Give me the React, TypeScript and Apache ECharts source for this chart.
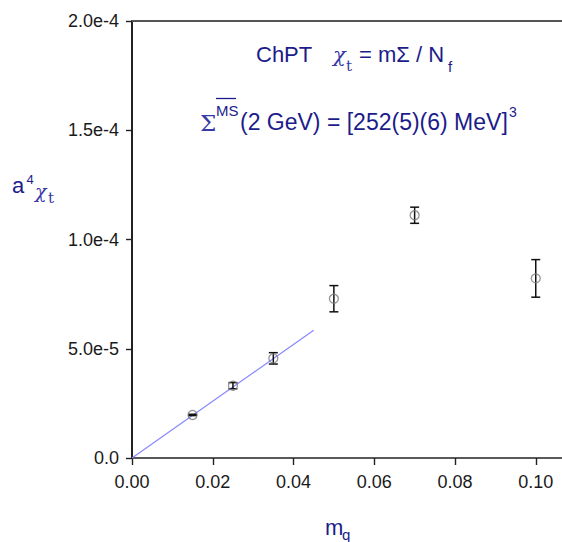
import React, { useEffect, useRef } from "react";
import * as echarts from "echarts";

const massValues = [0.015, 0.025, 0.035, 0.05, 0.07, 0.1];
const chiValues = [1.97e-5, 3.31e-5, 4.56e-5, 7.29e-5, 1.111e-4, 8.22e-5];
const chiErrors = [0.03e-5, 0.14e-5, 0.26e-5, 0.6e-5, 0.37e-5, 0.86e-5];
const fitLine = [
  [0, 0],
  [0.045, 5.85e-5],
];
const yTickLabels = ["0.0", "5.0e-5", "1.0e-4", "1.5e-4", "2.0e-4"];

const NAVY = "#1c1c8a";
const GREEK = "#3838a6";
const SANS = "'Liberation Sans', Arial, sans-serif";
const SERIF = "'DejaVu Serif', 'Liberation Serif', serif";

function txt(text: string, x: number, baseline: number, size: number, opts: any = {}) {
  return {
    type: "text",
    x,
    y: baseline - 0.35 * size,
    silent: true,
    style: {
      text,
      fontSize: size,
      fontFamily: opts.font || SANS,
      fontStyle: opts.italic ? "italic" : "normal",
      fill: opts.color || NAVY,
      verticalAlign: "middle",
      align: "left",
    },
  };
}

export default function App() {
  const ref = useRef<HTMLDivElement>(null);
  useEffect(() => {
    if (!ref.current) return;
    const chart = echarts.init(ref.current, null, { renderer: "svg" });
    const errData = massValues.map((m, i) => [m, chiValues[i], chiErrors[i]]);
    chart.setOption({
      animation: false,
      backgroundColor: "#ffffff",
      grid: { left: 132, top: 21, width: 430, height: 437 },
      xAxis: [
        {
          type: "value",
          min: 0,
          max: 0.1065,
          interval: 0.02,
          axisLine: { show: true, lineStyle: { color: "#222", width: 1.6 } },
          axisTick: { show: true, inside: false, length: 7, lineStyle: { color: "#222", width: 1.4 } },
          axisLabel: {
            margin: 15,
            fontSize: 18,
            fontFamily: SANS,
            color: "#1a1a1a",
            showMaxLabel: false,
            formatter: (v: number) => v.toFixed(2),
          },
          splitLine: { show: false },
        },
        {
          type: "value",
          position: "top",
          min: 0,
          max: 0.1065,
          axisLine: { show: true, onZero: false, lineStyle: { color: "#555", width: 2 } },
          axisTick: { show: false },
          axisLabel: { show: false },
          splitLine: { show: false },
        },
      ],
      yAxis: {
        type: "value",
        min: 0,
        max: 2e-4,
        interval: 5e-5,
        axisLine: { show: true, lineStyle: { color: "#222", width: 2 } },
        axisTick: { show: true, length: 6, lineStyle: { color: "#222", width: 1.4 } },
        axisLabel: {
          margin: 13,
          fontSize: 18,
          fontFamily: SANS,
          color: "#1a1a1a",
          formatter: (_v: number, idx: number) => yTickLabels[idx],
        },
        splitLine: { show: false },
      },
      series: [
        {
          type: "line",
          data: fitLine,
          symbol: "none",
          lineStyle: { color: "#8a8aff", width: 1.3 },
          z: 1,
        },
        {
          type: "custom",
          data: errData,
          z: 3,
          renderItem: (params: any, api: any) => {
            const x = api.value(0);
            const y = api.value(1);
            const e = api.value(2);
            const top = api.coord([x, y + e]);
            const bot = api.coord([x, y - e]);
            const w = 4.5;
            const st = { stroke: "#111", lineWidth: 1.5 };
            return {
              type: "group",
              children: [
                { type: "line", shape: { x1: top[0], y1: top[1], x2: bot[0], y2: bot[1] }, style: st },
                { type: "line", shape: { x1: top[0] - w, y1: top[1], x2: top[0] + w, y2: top[1] }, style: st },
                { type: "line", shape: { x1: bot[0] - w, y1: bot[1], x2: bot[0] + w, y2: bot[1] }, style: st },
              ],
            };
          },
        },
        {
          type: "scatter",
          data: massValues.map((m, i) => [m, chiValues[i]]),
          symbol: "circle",
          symbolSize: 9,
          itemStyle: { color: "rgba(255,255,255,0)", borderColor: "#7a7a7a", borderWidth: 1.3 },
          z: 4,
        },
      ],
      graphic: [
        txt("ChPT", 256, 62, 22),
        txt("χ", 333, 62, 21, { font: SERIF, color: GREEK, italic: true }),
        txt("t", 346, 71, 15, { font: SERIF, color: GREEK }),
        txt("= mΣ / N", 359, 62, 22),
        txt("f", 448, 72, 15),
        txt("Σ", 200, 131, 23, { font: SERIF, color: GREEK }),
        txt("MS", 216, 116, 15),
        {
          type: "line",
          silent: true,
          shape: { x1: 216, y1: 98.5, x2: 236, y2: 98.5 },
          style: { stroke: NAVY, lineWidth: 1.3 },
        },
        txt("(2 GeV) = [252(5)(6) MeV]", 240, 130, 23),
        txt("3", 509, 117, 14),
        txt("a", 12, 193, 22),
        txt("4", 26.5, 184, 13),
        txt("χ", 35, 198, 19, { font: SERIF, color: GREEK, italic: true }),
        txt("t", 48, 203, 15, { font: SERIF, color: GREEK }),
        txt("m", 325, 535, 22),
        txt("q", 342, 540, 15),
      ],
    });
    return () => chart.dispose();
  }, []);
  return (
    <div
      ref={ref}
      style={{ position: "fixed", left: 0, top: 0, width: 562, height: 542, background: "#fff" }}
    />
  );
}
